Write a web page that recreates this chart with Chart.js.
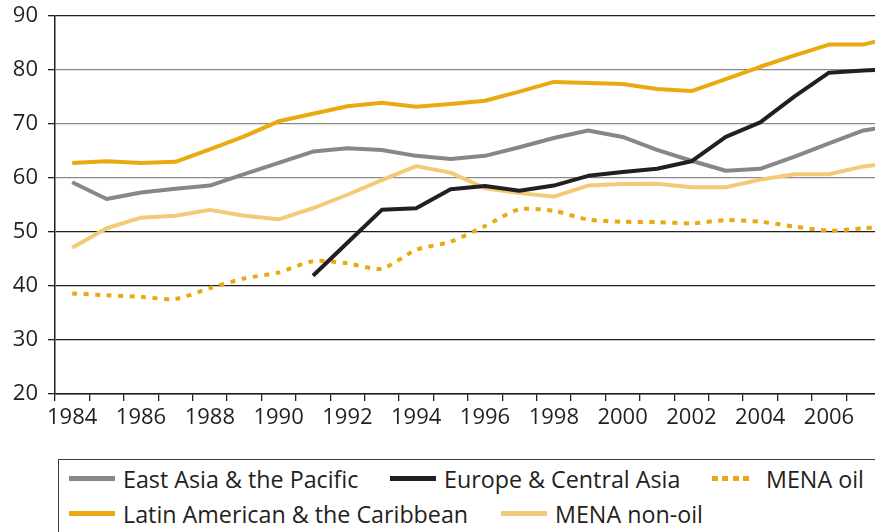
<!DOCTYPE html>
<html>
<head>
<meta charset="utf-8">
<title>Regional chart</title>
<script src="https://cdn.jsdelivr.net/npm/chart.js@4.4.1/dist/chart.umd.min.js"></script>
<style>
    html, body { margin: 0; padding: 0; background: #fff; overflow: hidden; }
    #wrap { position: relative; width: 915px; height: 532px; }
    #chartBox { position: absolute; left: 0; top: 0; width: 915px; height: 440px; }
    #legend {
        position: absolute; left: 57.5px; top: 459px; width: 880px; height: 110px;
        border: 1.5px solid #3a3a3a; box-sizing: border-box;
    }
    .item { position: absolute; height: 30px; display: flex; align-items: center; }
    .swatch { height: 4.5px; flex: none; }
    .label {
        position: absolute; left: 54px; top: 50%;
        font-family: 'Open Sans', sans-serif; font-size: 23px; color: #231f20;
        white-space: nowrap; transform-origin: left center;
    }
</style>
</head>
<body>
<div id="wrap">
    <div id="chartBox"><canvas id="regionChart"></canvas></div>
    <div id="legend"></div>
</div>
<script>
// data (1984-2008, last year runs past the edge)
const years = [1984, 1985, 1986, 1987, 1988, 1989, 1990, 1991, 1992, 1993, 1994, 1995, 1996,
               1997, 1998, 1999, 2000, 2001, 2002, 2003, 2004, 2005, 2006, 2007, 2008];
const eastAsia = [59.2, 56.1, 57.3, 58.0, 58.6, 60.7, 62.8, 64.9, 65.5, 65.2, 64.1, 63.5, 64.1,
                  65.7, 67.4, 68.8, 67.6, 65.2, 63.2, 61.35, 61.7, 63.95, 66.4, 68.8, 69.8];
const europe = [null, null, null, null, null, null, null, 41.9, 48.0, 54.1, 54.4, 57.9, 58.5,
                57.65, 58.6, 60.4, 61.1, 61.7, 63.1, 67.6, 70.3, 75.1, 79.5, 79.9, 80.2];
const menaOil = [38.6, 38.3, 38.0, 37.6, 39.6, 41.4, 42.5, 44.6, 44.2, 43.2, 46.7, 48.2, 51.1,
                 54.2, 53.9, 52.3, 51.9, 51.85, 51.6, 52.2, 51.9, 51.0, 50.25, 50.7, 51.1];
const latinAmerica = [62.8, 63.1, 62.8, 63.0, 65.3, 67.7, 70.5, 71.9, 73.3, 73.95, 73.2, 73.7, 74.3,
                      76.0, 77.8, 77.6, 77.4, 76.5, 76.1, 78.3, 80.6, 82.7, 84.7, 84.7, 86.3];
const menaNonOil = [47.1, 50.7, 52.65, 53.0, 54.1, 53.0, 52.35, 54.4, 56.9, 59.6, 62.2, 61.0, 58.1,
                    57.2, 56.55, 58.6, 58.9, 58.95, 58.3, 58.3, 59.7, 60.7, 60.7, 62.15, 62.9];
const seriesNames = ['East Asia & the Pacific', 'Europe & Central Asia', 'MENA oil',
                     'Latin American & the Caribbean', 'MENA non-oil'];

const INK = '#231f20';
const GREY = '#87878a';
const GOLD = '#e8aa0e';
const SAND = '#f2ca78';
const tickFont = { family: "'Open Sans', sans-serif", size: 22 };

function lineSet(label, data, color, extra) {
    return Object.assign({
        label: label,
        data: data,
        borderColor: color,
        backgroundColor: color,
        borderWidth: 4,
        pointRadius: 0,
        pointHoverRadius: 0,
        tension: 0,
        fill: false,
        spanGaps: false,
        borderCapStyle: 'butt',
        borderJoinStyle: 'round'
    }, extra || {});
}

const chart = new Chart(document.getElementById('regionChart'), {
    type: 'line',
    data: {
        labels: years,
        datasets: [
            lineSet(seriesNames[0], eastAsia, GREY, { order: 2 }),
            lineSet(seriesNames[1], europe, INK, { order: 0 }),
            lineSet(seriesNames[2], menaOil, GOLD, { order: 1, borderDash: [5, 6.5], tension: 0.25 }),
            lineSet(seriesNames[3], latinAmerica, GOLD, { order: 2 }),
            lineSet(seriesNames[4], menaNonOil, SAND, { order: 3 })
        ]
    },
    options: {
        responsive: true,
        maintainAspectRatio: false,
        animation: false,
        layout: { padding: { top: 16, right: 0, bottom: 0, left: 0 } },
        plugins: {
            legend: { display: false },
            tooltip: { enabled: false }
        },
        scales: {
            x: {
                type: 'category',
                offset: true,
                grid: {
                    offset: true,
                    drawOnChartArea: false,
                    drawTicks: true,
                    tickLength: 7,
                    color: INK,
                    lineWidth: 1.3
                },
                border: { display: true, color: INK, width: 1.5 },
                ticks: {
                    autoSkip: false,
                    maxRotation: 0,
                    padding: 4,
                    color: INK,
                    font: tickFont,
                    callback: (v, i) => (years[i] % 2 === 0 && years[i] < 2008) ? String(years[i]) : ''
                },
                afterFit: (scale) => {
                    scale.height = 46;
                    scale.paddingLeft = 0;
                    scale.paddingRight = 0;
                }
            },
            y: {
                min: 20,
                max: 90,
                ticks: { stepSize: 10, padding: 10, color: INK, font: tickFont },
                grid: {
                    color: (ctx) => {
                        const v = ctx.tick && ctx.tick.value;
                        return (v >= 60 && v <= 80) ? '#8a8a8a' : INK;
                    },
                    tickColor: INK,
                    lineWidth: 1.3,
                    tickLength: 7,
                    drawTicks: true
                },
                border: { display: true, color: INK, width: 1.5 },
                afterFit: (scale) => {
                    // keep the plot box where the original has it
                    scale.width = 55;
                    scale.paddingTop = 0;
                    scale.paddingBottom = 0;
                }
            }
        }
    }
});

// html legend, two rows as in the original box
const legendSpots = [[10.8, 18.5], [331.8, 18.5], [653.8, 18.5], [10.8, 53.5], [442.8, 53.5]];
const legendEl = document.getElementById('legend');
const labels = [];
chart.data.datasets.forEach((ds, i) => {
    const item = document.createElement('div');
    item.className = 'item';
    item.style.left = legendSpots[i][0] + 'px';
    item.style.top = (legendSpots[i][1] - 15) + 'px';

    const sw = document.createElement('div');
    sw.className = 'swatch';
    if (ds.borderDash) {
        sw.style.width = '40px';
        sw.style.background = 'repeating-linear-gradient(to right, ' + ds.borderColor +
            ' 0 6px, transparent 6px 10.5px)';
    } else {
        sw.style.width = '46px';
        sw.style.background = ds.borderColor;
    }
    const txt = document.createElement('span');
    txt.className = 'label';
    txt.textContent = ds.label;
    item.appendChild(sw);
    item.appendChild(txt);
    legendEl.appendChild(item);
    labels.push(txt);
});

// the original legend face is a bit narrower; match the widest label's width
const squeeze = 345 / labels[3].getBoundingClientRect().width;
labels.forEach((t) => { t.style.transform = 'translateY(-50%) scaleX(' + squeeze.toFixed(3) + ')'; });
</script>
</body>
</html>
